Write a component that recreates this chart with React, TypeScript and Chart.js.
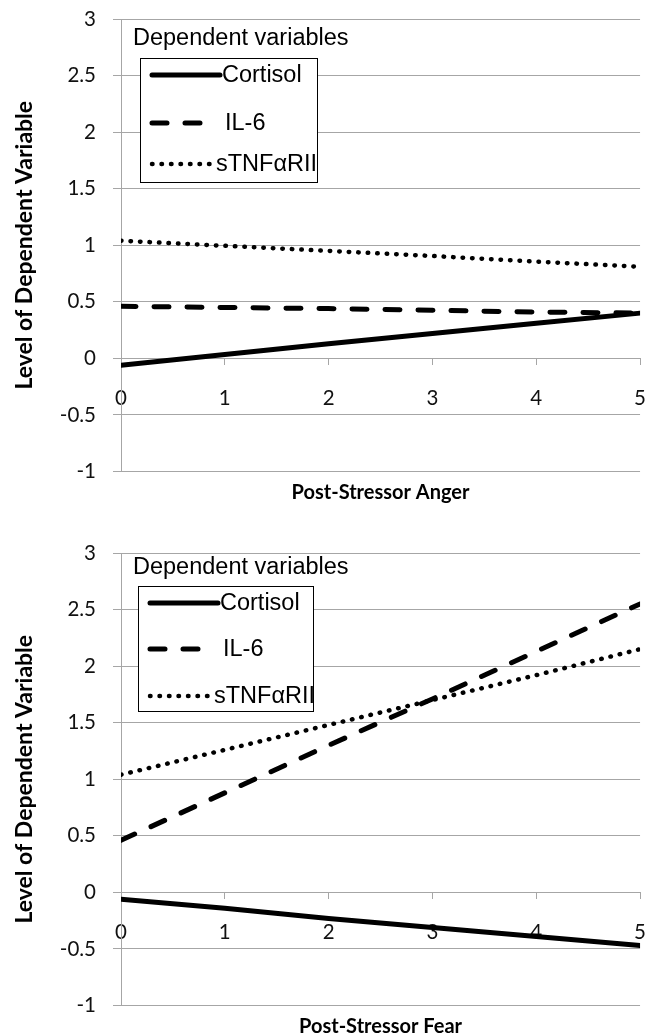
import React, { useEffect, useRef } from "react";
import { Chart, registerables } from "chart.js";

Chart.register(...registerables);

// ---------- data ----------
const xValues = [0, 1, 2, 3, 4, 5];
const seriesLabels = ["Cortisol", "IL-6", "sTNFαRII"];

const cortisolAnger = [-0.06, 0.035, 0.13, 0.22, 0.31, 0.40];
const il6Anger = [0.46, 0.45, 0.44, 0.425, 0.41, 0.40];
const stnfAnger = [1.04, 0.995, 0.95, 0.905, 0.855, 0.81];

const cortisolFear = [-0.06, -0.14, -0.23, -0.31, -0.39, -0.47];
const il6Fear = [0.46, 0.88, 1.30, 1.71, 2.13, 2.55];
const stnfFear = [1.04, 1.26, 1.48, 1.70, 1.92, 2.15];

const yTickValues = [-1, -0.5, 0, 0.5, 1, 1.5, 2, 2.5, 3];
const yTickLabels = ["-1", "-0.5", "0", "0.5", "1", "1.5", "2", "2.5", "3"];

const yAxisTitle = "Level of Dependent Variable";
const legendTitle = "Dependent variables";
const xTitleAnger = "Post-Stressor Anger";
const xTitleFear = "Post-Stressor Fear";

// ---------- styles ----------
const GRID = "#a6a6a6";
const TICK_FONT = { family: "Lato, 'Open Sans', sans-serif", size: 20.5 };
const Y_TITLE_FONT = { family: "Lato, 'Open Sans', sans-serif", size: 23, weight: "bold" as const };
const X_TITLE_FONT = { family: "Lato, 'Open Sans', sans-serif", size: 20, weight: "bold" as const };
const LEGEND_FONT = "23.5px 'Liberation Sans', Arial, sans-serif";

const lineStyles = [
  { borderDash: [] as number[], borderWidth: 5 },
  { borderDash: [15, 18], borderWidth: 5 },
  { borderDash: [0.5, 9], borderWidth: 4.5 },
];

const boxLegendPlugin = {
  id: "boxLegend",
  afterDraw(chart: any, _args: any, opts: any) {
    const ctx = chart.ctx as CanvasRenderingContext2D;
    ctx.save();
    ctx.font = LEGEND_FONT;
    ctx.fillStyle = "#000";
    ctx.textBaseline = "alphabetic";
    ctx.textAlign = "left";
    ctx.fillText(opts.title, opts.titleX, opts.titleY);
    const b = opts.box;
    ctx.fillStyle = "#fff";
    ctx.fillRect(b.x, b.y, b.w, b.h);
    ctx.strokeStyle = "#000";
    ctx.lineWidth = 1;
    ctx.setLineDash([]);
    ctx.strokeRect(b.x + 0.5, b.y + 0.5, b.w, b.h);
    chart.data.datasets.forEach((ds: any, i: number) => {
      const y = opts.rows[i];
      ctx.beginPath();
      ctx.setLineDash(ds.borderDash || []);
      ctx.lineDashOffset = 0;
      ctx.lineWidth = ds.borderWidth;
      ctx.lineCap = "round";
      ctx.strokeStyle = ds.borderColor;
      ctx.moveTo(opts.sampleX0, y);
      ctx.lineTo(opts.sampleX1[i], y);
      ctx.stroke();
      ctx.setLineDash([]);
      ctx.fillStyle = "#000";
      ctx.textBaseline = "middle";
      ctx.fillText(ds.label, opts.textX[i], y + 1);
    });
    ctx.restore();
  },
};

function makeConfig(series: number[][], xTitle: string, legendOpts: any): any {
  return {
    type: "line",
    data: {
      datasets: series.map((arr, i) => ({
        label: seriesLabels[i],
        data: xValues.map((x, j) => ({ x, y: arr[j] })),
        borderColor: "#000",
        backgroundColor: "#000",
        borderWidth: lineStyles[i].borderWidth,
        borderDash: lineStyles[i].borderDash,
        borderCapStyle: "round",
        pointRadius: 0,
        tension: 0,
        fill: false,
      })),
    },
    options: {
      animation: false,
      responsive: false,
      devicePixelRatio: 1,
      layout: { padding: { top: 19, right: 14, left: 0, bottom: 0 } },
      plugins: {
        legend: { display: false },
        tooltip: { enabled: false },
        boxLegend: legendOpts,
      },
      scales: {
        x: {
          type: "linear",
          position: { y: 0 },
          min: 0,
          max: 5,
          ticks: { stepSize: 1, padding: 22, font: TICK_FONT, color: "#111", maxRotation: 0 },
          grid: { display: true, drawOnChartArea: false, drawTicks: true, tickLength: 6, color: GRID, lineWidth: 1 },
          border: { display: true, color: GRID, width: 1 },
        },
        x2: {
          type: "linear",
          axis: "x",
          position: "bottom",
          min: 0,
          max: 5,
          ticks: { display: false },
          grid: { display: false },
          border: { display: false },
          title: { display: true, text: xTitle, font: X_TITLE_FONT, color: "#000", padding: { top: 0, bottom: 29 } },
          afterFit: (s: any) => {
            s.height = 62.5;
            s.paddingLeft = 0;
            s.paddingRight = 0;
          },
        },
        y: {
          type: "linear",
          min: -1,
          max: 3,
          afterBuildTicks: (s: any) => {
            s.ticks = yTickValues.map((v) => ({ value: v }));
          },
          ticks: {
            padding: 17,
            font: TICK_FONT,
            color: "#111",
            callback: (v: number) => {
              const idx = yTickValues.indexOf(v);
              return idx >= 0 ? yTickLabels[idx] : "";
            },
          },
          grid: { color: GRID, lineWidth: 1, drawTicks: true, tickLength: 8 },
          border: { display: true, color: GRID, width: 1 },
          title: { display: true, text: yAxisTitle, font: Y_TITLE_FONT, color: "#000", padding: { top: 11, bottom: 0 } },
          afterFit: (s: any) => {
            s.width = 121;
            s.paddingTop = 0;
            s.paddingBottom = 0;
          },
        },
      },
    },
    plugins: [boxLegendPlugin],
  };
}

function ChartCanvas({ series, xTitle, legendOpts, top }: { series: number[][]; xTitle: string; legendOpts: any; top: number }) {
  const ref = useRef<HTMLCanvasElement | null>(null);
  useEffect(() => {
    if (!ref.current) return;
    const chart = new Chart(ref.current, makeConfig(series, xTitle, legendOpts));
    return () => chart.destroy();
  }, []);
  return (
    <canvas
      ref={ref}
      width={668}
      height={534}
      style={{ position: "absolute", left: 0, top, width: 668, height: 534, display: "block" }}
    />
  );
}

const legendAnger = {
  title: legendTitle,
  titleX: 133,
  titleY: 45,
  box: { x: 140, y: 58, w: 177, h: 124 },
  rows: [75, 123, 164],
  sampleX0: 152,
  sampleX1: [220, 206, 213],
  textX: [222, 225, 216],
};

const legendFear = {
  title: legendTitle,
  titleX: 133,
  titleY: 40,
  box: { x: 138, y: 52, w: 175, h: 125 },
  rows: [69, 115, 162],
  sampleX0: 150,
  sampleX1: [218, 204, 211],
  textX: [220, 223, 214],
};

export default function App() {
  return (
    <div
      style={{
        position: "absolute",
        left: 0,
        top: 0,
        width: 668,
        height: 1035,
        overflow: "hidden",
        background: "#fff",
      }}
    >
      <ChartCanvas series={[cortisolAnger, il6Anger, stnfAnger]} xTitle={xTitleAnger} legendOpts={legendAnger} top={0} />
      <ChartCanvas series={[cortisolFear, il6Fear, stnfFear]} xTitle={xTitleFear} legendOpts={legendFear} top={534} />
    </div>
  );
}
